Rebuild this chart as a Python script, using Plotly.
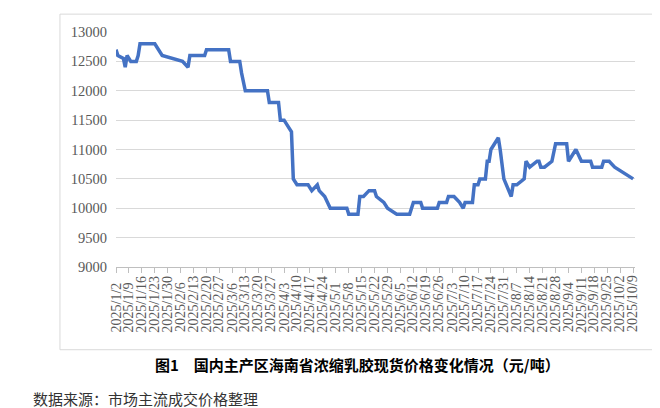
import plotly.graph_objects as go

# ---- data ----
dates = [
    "2025-01-02", "2025-01-03", "2025-01-06", "2025-01-07", "2025-01-08", "2025-01-10",
    "2025-01-13", "2025-01-14", "2025-01-15", "2025-01-23", "2025-01-27", "2025-02-07",
    "2025-02-10", "2025-02-11", "2025-02-19", "2025-02-20", "2025-03-04", "2025-03-05",
    "2025-03-10", "2025-03-11", "2025-03-13", "2025-03-25", "2025-03-26", "2025-03-31",
    "2025-04-01", "2025-04-03", "2025-04-07", "2025-04-08", "2025-04-10", "2025-04-16",
    "2025-04-18", "2025-04-21", "2025-04-22", "2025-04-25", "2025-04-28", "2025-05-07",
    "2025-05-08", "2025-05-13", "2025-05-14", "2025-05-16", "2025-05-19", "2025-05-22",
    "2025-05-23", "2025-05-27", "2025-05-29", "2025-06-03", "2025-06-10", "2025-06-11",
    "2025-06-12", "2025-06-16", "2025-06-17", "2025-06-25", "2025-06-26", "2025-06-30",
    "2025-07-01", "2025-07-04", "2025-07-07", "2025-07-09", "2025-07-10", "2025-07-14",
    "2025-07-15", "2025-07-17", "2025-07-18", "2025-07-21", "2025-07-22", "2025-07-23",
    "2025-07-24", "2025-07-28", "2025-07-29", "2025-07-31", "2025-08-04", "2025-08-05",
    "2025-08-07", "2025-08-11", "2025-08-12", "2025-08-14", "2025-08-18", "2025-08-19",
    "2025-08-20", "2025-08-22", "2025-08-26", "2025-08-28", "2025-09-03", "2025-09-04",
    "2025-09-08", "2025-09-11", "2025-09-16", "2025-09-17", "2025-09-22", "2025-09-23",
    "2025-09-26", "2025-09-29", "2025-10-09",
]
prices = [
    12700, 12600, 12550, 12400, 12600, 12500,
    12500, 12600, 12800, 12800, 12600, 12500,
    12400, 12600, 12600, 12700, 12700, 12500,
    12500, 12300, 12000, 12000, 11800, 11800,
    11500, 11500, 11300, 10500, 10400, 10400,
    10300, 10400, 10300, 10200, 10000, 10000,
    9900, 9900, 10200, 10200, 10300, 10300,
    10200, 10100, 10000, 9900, 9900, 10000,
    10100, 10100, 10000, 10000, 10100, 10100,
    10200, 10200, 10100, 10000, 10100, 10100,
    10400, 10400, 10500, 10500, 10800, 10800,
    11000, 11200, 11000, 10500, 10200, 10400,
    10400, 10500, 10800, 10700, 10800, 10800,
    10700, 10700, 10800, 11100, 11100, 10800,
    11000, 10800, 10800, 10700, 10700, 10800,
    10800, 10700, 10500,
]
tick_dates = [
    "2025-01-02", "2025-01-09", "2025-01-16", "2025-01-23", "2025-01-30", "2025-02-06",
    "2025-02-13", "2025-02-20", "2025-02-27", "2025-03-06", "2025-03-13", "2025-03-20",
    "2025-03-27", "2025-04-03", "2025-04-10", "2025-04-17", "2025-04-24", "2025-05-01",
    "2025-05-08", "2025-05-15", "2025-05-22", "2025-05-29", "2025-06-05", "2025-06-12",
    "2025-06-19", "2025-06-26", "2025-07-03", "2025-07-10", "2025-07-17", "2025-07-24",
    "2025-07-31", "2025-08-07", "2025-08-14", "2025-08-21", "2025-08-28", "2025-09-04",
    "2025-09-11", "2025-09-18", "2025-09-25", "2025-10-02", "2025-10-09",
]
tick_labels = [
    "2025/1/2", "2025/1/9", "2025/1/16", "2025/1/23", "2025/1/30", "2025/2/6",
    "2025/2/13", "2025/2/20", "2025/2/27", "2025/3/6", "2025/3/13", "2025/3/20",
    "2025/3/27", "2025/4/3", "2025/4/10", "2025/4/17", "2025/4/24", "2025/5/1",
    "2025/5/8", "2025/5/15", "2025/5/22", "2025/5/29", "2025/6/5", "2025/6/12",
    "2025/6/19", "2025/6/26", "2025/7/3", "2025/7/10", "2025/7/17", "2025/7/24",
    "2025/7/31", "2025/8/7", "2025/8/14", "2025/8/21", "2025/8/28", "2025/9/4",
    "2025/9/11", "2025/9/18", "2025/9/25", "2025/10/2", "2025/10/9",
]
y_ticks = [9000, 9500, 10000, 10500, 11000, 11500, 12000, 12500, 13000]
y_tick_labels = ["9000", "9500", "10000", "10500", "11000", "11500", "12000", "12500", "13000"]
title_text = "图1　国内主产区海南省浓缩乳胶现货价格变化情况（元/吨）"
source_text = "数据来源：市场主流成交价格整理"

SERIF = "'Times New Roman', 'Liberation Serif', serif"
CJK = "'Noto Sans CJK SC'"

fig = go.Figure()
fig.add_trace(go.Scatter(
    x=dates, y=prices, mode="lines",
    line=dict(color="#4472C4", width=3.5),
    hoverinfo="skip", showlegend=False,
))

annotations = []
for d, lab in zip(tick_dates, tick_labels):
    annotations.append(dict(
        x=d, y=-0.287, xref="x", yref="paper", text=lab, showarrow=False,
        textangle=-90, xanchor="center", yanchor="bottom",
        font=dict(family=SERIF, size=14, color="#595959"),
    ))
annotations.append(dict(
    x=0.465, y=-0.415, xref="paper", yref="paper", text="<b>" + title_text + "</b>",
    showarrow=False, xanchor="center", yanchor="middle",
    font=dict(family=CJK, size=15, color="#000000"),
))
annotations.append(dict(
    x=-0.163, y=-0.56, xref="paper", yref="paper", text=source_text,
    showarrow=False, xanchor="left", yanchor="middle",
    font=dict(family=CJK, size=15, color="#333333"),
))

fig.update_layout(
    width=660, height=408,
    margin=dict(l=108, r=33, t=24, b=148.5),
    paper_bgcolor="white", plot_bgcolor="white",
    font=dict(family=SERIF),
    annotations=annotations,
    shapes=[dict(
        type="rect", xref="paper", yref="paper",
        x0=-0.108, x1=1.035, y0=-0.352, y1=1.076,
        line=dict(color="#d9d9d9", width=1), fillcolor="rgba(0,0,0,0)", layer="below",
    )],
)
fig.update_xaxes(
    type="date", range=["2025-01-02", "2025-10-10"],
    tickvals=tick_dates, showticklabels=False,
    ticks="outside", ticklen=5, tickcolor="#bfbfbf", tickwidth=1,
    showline=True, linecolor="#bfbfbf", linewidth=1,
    showgrid=False, zeroline=False,
)
fig.update_yaxes(
    range=[9000, 13000], tickvals=y_ticks, ticktext=y_tick_labels,
    tickfont=dict(family=SERIF, size=14.5, color="#595959"),
    showgrid=True, gridcolor="#d9d9d9", gridwidth=1,
    showline=False, zeroline=False, ticks="", ticklabelstandoff=8,
)

fig.write_html("out.html")
